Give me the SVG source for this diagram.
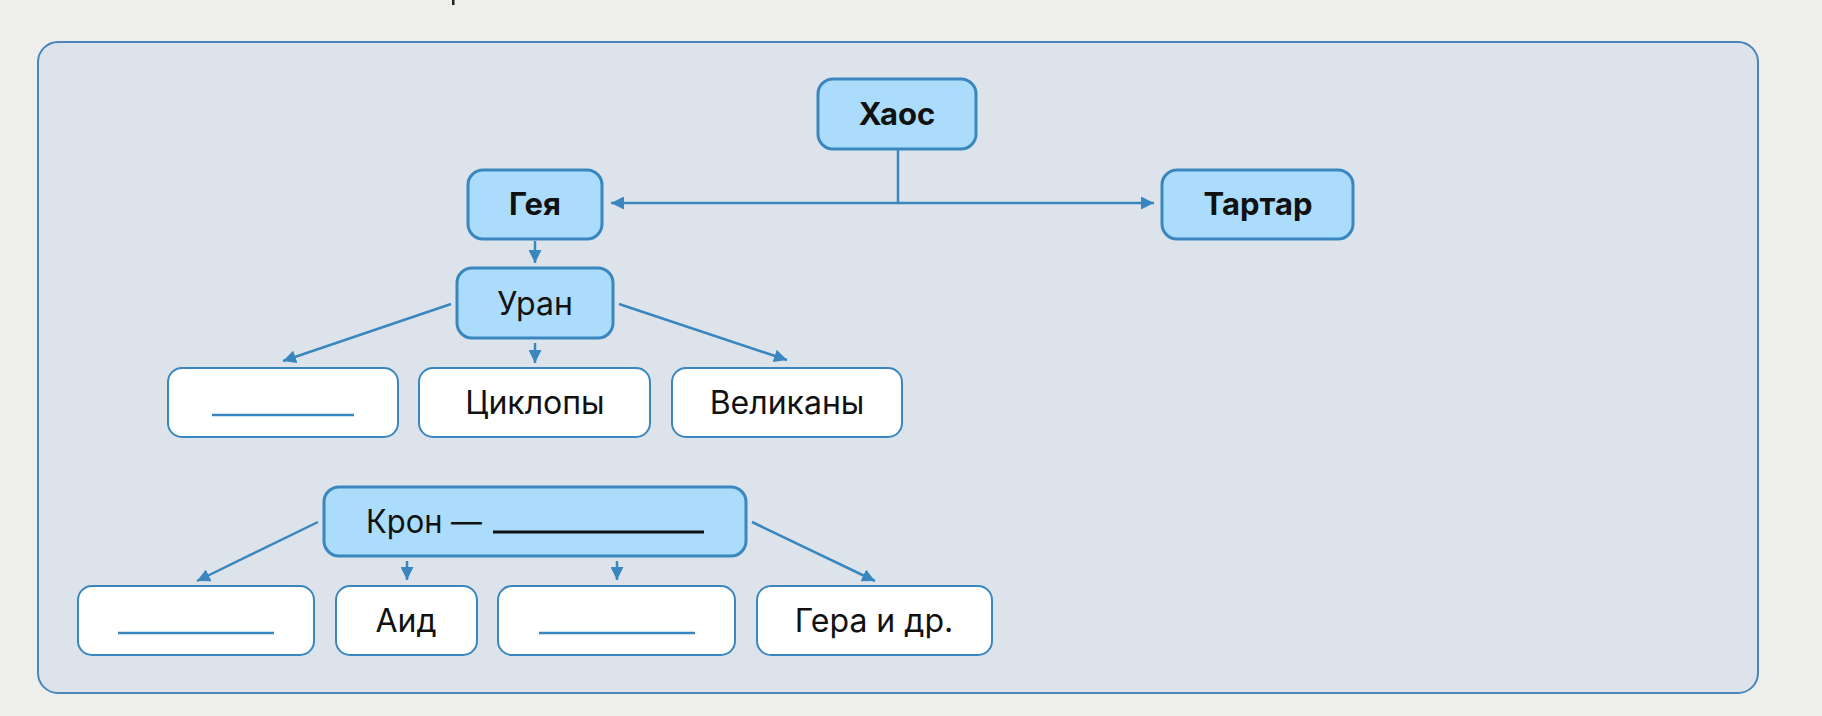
<svg xmlns="http://www.w3.org/2000/svg" width="1822" height="716" viewBox="0 0 1822 716">
<style>
.bg{fill:#eeeeec}
.frame{fill:#dde3ea;stroke:#4a86b8;stroke-width:2}
.blue{fill:#abdcfc;stroke:#3a87c0;stroke-width:3}
.white{fill:#ffffff;stroke:#3a87c0;stroke-width:2}
.t{font-family:Inter,"Noto Sans","Liberation Sans",sans-serif;font-size:32px;fill:#111;text-anchor:middle}
.b{font-weight:700;font-size:31px}
.blank{stroke:#3a87c0;stroke-width:2.5}
.conn{stroke:#3a87c0;stroke-width:2.5;fill:none}
</style>
<defs>
<marker id="ah" viewBox="0 0 13 13" refX="13" refY="6.5" markerWidth="13" markerHeight="13" markerUnits="userSpaceOnUse" orient="auto">
<path d="M0,0 L13,6.5 L0,13 Z" fill="#3a87c0"/>
</marker>
</defs>
<rect class="bg" x="0" y="0" width="1822" height="716"/>
<rect x="452" y="0" width="2.5" height="5" fill="#222"/>
<rect class="frame" x="38" y="42" width="1720" height="651" rx="20"/>

<g id="connectors">
<path class="conn" d="M898,150 V203"/>
<path class="conn" d="M898,203 H611" marker-end="url(#ah)"/>
<path class="conn" d="M898,203 H1154" marker-end="url(#ah)"/>
<path class="conn" d="M535,241 V263" marker-end="url(#ah)"/>
<path class="conn" d="M451,304 L283,361" marker-end="url(#ah)"/>
<path class="conn" d="M535,343 V363" marker-end="url(#ah)"/>
<path class="conn" d="M619,304 L787,360" marker-end="url(#ah)"/>
<path class="conn" d="M318,522 L197,581" marker-end="url(#ah)"/>
<path class="conn" d="M407,561 V580" marker-end="url(#ah)"/>
<path class="conn" d="M617,561 V580" marker-end="url(#ah)"/>
<path class="conn" d="M752,522 L875,581" marker-end="url(#ah)"/>
</g>

<g id="haos">
<rect class="blue" x="818" y="79" width="158" height="70" rx="15"/>
<text class="t b" x="897" y="125">Хаос</text>
</g>
<g id="geya">
<rect class="blue" x="468" y="170" width="134" height="69" rx="15"/>
<text class="t b" x="535" y="215">Гея</text>
</g>
<g id="tartar">
<rect class="blue" x="1162" y="170" width="191" height="69" rx="15"/>
<text class="t b" x="1258" y="215">Тартар</text>
</g>
<g id="uran">
<rect class="blue" x="457" y="268" width="156" height="70" rx="15"/>
<text class="t" x="535" y="315">Уран</text>
</g>
<g id="blank1">
<rect class="white" x="168" y="368" width="230" height="69" rx="14"/>
<line class="blank" x1="212" y1="415" x2="354" y2="415"/>
</g>
<g id="tsiklopy">
<rect class="white" x="419" y="368" width="231" height="69" rx="14"/>
<text class="t" x="535" y="414">Циклопы</text>
</g>
<g id="velikany">
<rect class="white" x="672" y="368" width="230" height="69" rx="14"/>
<text class="t" x="787" y="414">Великаны</text>
</g>
<g id="kron">
<rect class="blue" x="324" y="487" width="422" height="69" rx="15"/>
<text class="t" x="366" y="533" style="text-anchor:start" textLength="116" lengthAdjust="spacingAndGlyphs">Крон —</text>
<line x1="493" y1="532" x2="704" y2="532" stroke="#111" stroke-width="3"/>
</g>
<g id="blank2">
<rect class="white" x="78" y="586" width="236" height="69" rx="14"/>
<line class="blank" x1="118" y1="633" x2="274" y2="633"/>
</g>
<g id="aid">
<rect class="white" x="336" y="586" width="141" height="69" rx="14"/>
<text class="t" x="406" y="632">Аид</text>
</g>
<g id="blank3">
<rect class="white" x="498" y="586" width="237" height="69" rx="14"/>
<line class="blank" x1="539" y1="633" x2="695" y2="633"/>
</g>
<g id="gera">
<rect class="white" x="757" y="586" width="235" height="69" rx="14"/>
<text class="t" x="874" y="632">Гера и др.</text>
</g>
</svg>
